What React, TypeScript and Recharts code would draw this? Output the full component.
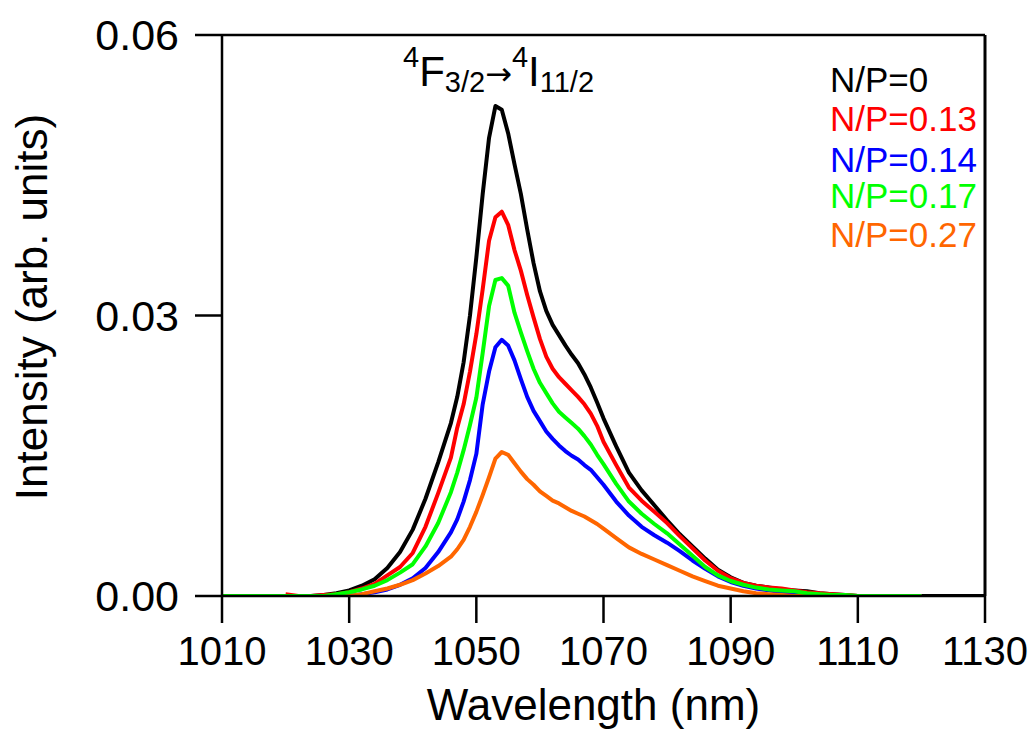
import React from 'react';
import { Customized, Label, Line, LineChart, ReferenceLine, XAxis, YAxis } from 'recharts';

// wavelength grid (nm), 1 nm steps around the peak
const wavelength = [
  1010, 1012, 1014, 1016, 1018, 1020, 1022, 1024, 1026, 1028, 1030, 1032, 1034, 1036, 1038, 1040, 1042, 1044, 1046,
  1047, 1048, 1049, 1050, 1051, 1052, 1053, 1054, 1055, 1056, 1057, 1058, 1059, 1060, 1061, 1062, 1063, 1064, 1065,
  1066, 1067, 1068, 1069, 1070,
  1072, 1074, 1076, 1078, 1080, 1082, 1084, 1086, 1088, 1090, 1092, 1094, 1096, 1098, 1100, 1102, 1104, 1106, 1108,
  1110, 1112, 1114, 1116, 1118, 1120, 1122, 1124, 1126, 1128, 1130,
];

const np0 = [
  null, null, null, null, null, 0, 0, 0, 0.0001, 0.0003, 0.0006, 0.0011, 0.0018, 0.003, 0.0047, 0.0071, 0.0104, 0.0143, 0.0185,
  0.0213, 0.025, 0.03, 0.0362, 0.043, 0.049, 0.0524, 0.052, 0.0495, 0.0462, 0.043, 0.0392, 0.0356, 0.0326, 0.0305, 0.029, 0.0279, 0.0268, 0.0258,
  0.0249, 0.0237, 0.0223, 0.0207, 0.019,
  0.016, 0.0132, 0.0113, 0.0097, 0.0081, 0.0066, 0.0053, 0.004, 0.0028, 0.002, 0.0014, 0.0011, 0.0009, 0.0007, 0.0006, 0.0005, 0.0003, 0.0002, 0.0001,
  0, 0, 0, 0, 0, 0, 0, 0, 0, 0, 0,
];

const np013 = [
  null, null, null, null, null, 0.0002, 0, 0, 0.0001, 0.0002, 0.0004, 0.0008, 0.0013, 0.0022, 0.0031, 0.0046, 0.0074, 0.011, 0.0148,
  0.018, 0.0205, 0.024, 0.028, 0.0328, 0.038, 0.0405, 0.0411, 0.0397, 0.037, 0.0348, 0.0322, 0.0298, 0.0275, 0.0256, 0.0243, 0.0234, 0.0227, 0.022,
  0.0213, 0.0205, 0.0195, 0.0182, 0.0165,
  0.014, 0.0116, 0.0102, 0.009, 0.0078, 0.0064, 0.0051, 0.0038, 0.0027, 0.0019, 0.0014, 0.0011, 0.0009, 0.0008, 0.0006, 0.0004, 0.0003, 0.0002, 0.0001,
  0, 0, 0, 0, 0, 0, null, null, null, null, null,
];

const np014 = [
  null, null, null, null, null, 0, 0, 0, 0, 0, 0, 0.0002, 0.0004, 0.0007, 0.0012, 0.0019, 0.003, 0.0047, 0.0068,
  0.0082, 0.0101, 0.0124, 0.0152, 0.0205, 0.024, 0.0266, 0.0274, 0.0268, 0.0252, 0.0232, 0.0213, 0.0198, 0.0187, 0.0176, 0.0168, 0.0161, 0.0155, 0.015,
  0.0146, 0.014, 0.0135, 0.0127, 0.0119,
  0.0101, 0.0086, 0.0074, 0.0065, 0.0057, 0.0048, 0.0038, 0.0029, 0.0021, 0.0015, 0.0011, 0.0008, 0.0006, 0.0004, 0.0003, 0.0002, 0.0001, 0, 0,
  0, 0, 0, 0, 0, 0, null, null, null, null, null,
];

const np017 = [
  0, 0, 0, 0, 0, 0, 0, 0, 0, 0.0002, 0.0004, 0.0007, 0.0011, 0.0017, 0.0025, 0.0034, 0.0053, 0.0078, 0.0111,
  0.0132, 0.0156, 0.0183, 0.0212, 0.026, 0.031, 0.0338, 0.034, 0.0332, 0.0303, 0.0282, 0.0262, 0.0243, 0.0228, 0.0217, 0.0206, 0.0197, 0.0191, 0.0185,
  0.0179, 0.0171, 0.0162, 0.0151, 0.0141,
  0.012, 0.0101, 0.0088, 0.0077, 0.0067, 0.0055, 0.0043, 0.0031, 0.0022, 0.0016, 0.0012, 0.0009, 0.0007, 0.0006, 0.0005, 0.0003, 0.0002, 0.0001, 0.0001,
  0, 0, 0, 0, 0, 0, null, null, null, null, null,
];

const np027 = [
  null, null, null, null, null, 0, 0, 0, 0, 0, 0, 0.0002, 0.0005, 0.0008, 0.0012, 0.0017, 0.0024, 0.0032, 0.0042,
  0.005, 0.006, 0.0074, 0.009, 0.0108, 0.0127, 0.0147, 0.0154, 0.0151, 0.0142, 0.0133, 0.0125, 0.0119, 0.0112, 0.0107, 0.0102, 0.0099, 0.0095, 0.0091,
  0.0088, 0.0085, 0.0081, 0.0077, 0.0072,
  0.0062, 0.0052, 0.0045, 0.0039, 0.0033, 0.0027, 0.0021, 0.0016, 0.0011, 0.0008, 0.0005, 0.0003, 0.0002, 0.0001, 0, 0, 0, 0, 0,
  0, 0, 0, 0, 0, 0, null, null, null, null, null,
];

const seriesNames = ['N/P=0', 'N/P=0.13', 'N/P=0.14', 'N/P=0.17', 'N/P=0.27'];
const seriesKeys = ['np0', 'np013', 'np014', 'np017', 'np027'];
const colors = ['#000000', '#ff0000', '#0000ff', '#00ff00', '#ff6600'];

const xTicks = [1010, 1030, 1050, 1070, 1090, 1110, 1130];
const yTicks = [0, 0.03, 0.06];

const data = wavelength.map((x, i) => ({
  x,
  np0: np0[i],
  np013: np013[i],
  np014: np014[i],
  np017: np017[i],
  np027: np027[i],
}));

const FONT = '"Liberation Sans", Arial, sans-serif';

// legend rows, placed by hand like the original
const legendBaselines = [92, 131, 172, 208, 247];

const Annotations = () => (
  <g fontFamily={FONT} fill="#000">
    <text x={47} y={307} fontSize={44} textAnchor="middle" transform="rotate(-90, 47, 307)">
      Intensity (arb. units)
    </text>
    <text x={403} y={86} fontSize={42}>
      <tspan fontSize={29} dy={-19}>4</tspan>
      <tspan fontSize={42} dy={19}>F</tspan>
      <tspan fontSize={29} dy={6}>3/2</tspan>
      <tspan fontSize={32} dy={-7} fontFamily="DejaVu Sans">→</tspan>
      <tspan fontSize={29} dy={-18}>4</tspan>
      <tspan fontSize={42} dy={19}>I</tspan>
      <tspan fontSize={29} dy={6}>11/2</tspan>
    </text>
    {seriesNames.map((name, i) => (
      <text key={name} x={830} y={legendBaselines[i]} fontSize={35} fill={colors[i]}>
        {name}
      </text>
    ))}
  </g>
);

// drawing order: orange under green, as in the picture
const drawOrder = [0, 1, 2, 4, 3];

export default function App() {
  return (
    <div style={{ position: 'absolute', left: 0, top: 0, background: '#fff' }}>
      <LineChart
        width={1033}
        height={742}
        data={data}
        margin={{ top: 35, right: 48, bottom: 0, left: 0 }}
        style={{ fontFamily: FONT }}
      >
        <XAxis
          dataKey="x"
          type="number"
          domain={[1010, 1130]}
          ticks={xTicks}
          height={146}
          tickSize={27}
          tickMargin={14}
          axisLine={{ stroke: '#000', strokeWidth: 2.5 }}
          tickLine={{ stroke: '#000', strokeWidth: 2.5 }}
          tick={{ fill: '#000', fontSize: 40 }}
          interval={0}
        >
          <Label value="Wavelength (nm)" position="insideBottom" offset={22} dx={-10} style={{ fontSize: 44, fill: '#000' }} />
        </XAxis>
        <YAxis
          type="number"
          domain={[0, 0.06]}
          ticks={yTicks}
          width={222}
          tickSize={27}
          tickMargin={16}
          tickFormatter={(v: number) => v.toFixed(2)}
          axisLine={{ stroke: '#000', strokeWidth: 2.5 }}
          tickLine={{ stroke: '#000', strokeWidth: 2.5 }}
          tick={{ fill: '#000', fontSize: 43 }}
          interval={0}
          allowDataOverflow
        />
        <ReferenceLine y={0.06} stroke="#000" strokeWidth={2.5} ifOverflow="visible" />
        <ReferenceLine x={1130} stroke="#000" strokeWidth={3} ifOverflow="visible" />
        {drawOrder.map((i) => (
          <Line
            key={seriesKeys[i]}
            dataKey={seriesKeys[i]}
            type="linear"
            stroke={colors[i]}
            strokeWidth={4}
            strokeLinejoin="round"
            dot={false}
            activeDot={false}
            connectNulls={false}
            isAnimationActive={false}
          />
        ))}
        <Customized component={Annotations} />
      </LineChart>
    </div>
  );
}
